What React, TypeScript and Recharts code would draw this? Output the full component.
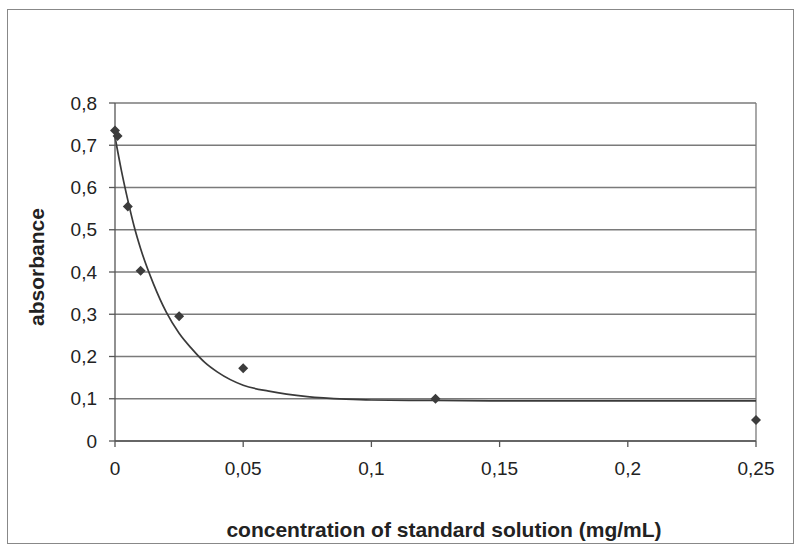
import {
  ComposedChart, Scatter, Line, XAxis, YAxis, CartesianGrid, ReferenceLine,
} from "recharts";

// measured standards
const concentration = [0, 0.001, 0.005, 0.01, 0.025, 0.05, 0.125, 0.25];
const absorbance = [0.735, 0.722, 0.555, 0.403, 0.295, 0.172, 0.1, 0.05];

// trend curve
const fitConcentration = [
  0, 0.0025, 0.005, 0.0075, 0.01, 0.015, 0.02, 0.025, 0.03, 0.035, 0.04,
  0.05, 0.06, 0.075, 0.09, 0.1, 0.125, 0.15, 0.2, 0.25,
];
const fitAbsorbance = [
  0.72, 0.64, 0.57, 0.507, 0.455, 0.372, 0.305, 0.255, 0.218, 0.186, 0.163,
  0.132, 0.118, 0.105, 0.099, 0.097, 0.096, 0.095, 0.095, 0.095,
];

const xTicks = [0, 0.05, 0.1, 0.15, 0.2, 0.25];
const yTicks = [0, 0.1, 0.2, 0.3, 0.4, 0.5, 0.6, 0.7, 0.8];

const points = concentration.map((x, i) => ({ x, y: absorbance[i] }));
const fit = fitConcentration.map((x, i) => ({ x, y: fitAbsorbance[i] }));

const font = "'Liberation Sans', Arial, sans-serif";
const comma = (v: number) => String(v).replace(".", ",");
const tickStyle = { fill: "#222", fontSize: 19, fontFamily: font };

function Diamond(props: any) {
  const { cx, cy } = props;
  if (cx == null || cy == null) return null;
  const r = 5;
  return (
    <polygon
      points={`${cx},${cy - r} ${cx + r},${cy} ${cx},${cy + r} ${cx - r},${cy}`}
      fill="#3c3c3c"
    />
  );
}

export default function App() {
  return (
    <div style={{ position: "absolute", left: 0, top: 0, width: 800, height: 553, background: "#fff" }}>
      <div
        style={{
          position: "absolute", left: 7, top: 9, width: 787, height: 535,
          border: "1px solid #888", boxSizing: "border-box",
        }}
      />
      <ComposedChart
        width={800}
        height={553}
        margin={{ top: 103, right: 44, bottom: 82, left: 55 }}
      >
        <CartesianGrid vertical={false} stroke="#7a7a7a" strokeWidth={1.3} />
        <XAxis
          type="number"
          dataKey="x"
          domain={[0, 0.25]}
          ticks={xTicks}
          tickFormatter={comma}
          height={30}
          tick={tickStyle}
          tickSize={6}
          tickMargin={15}
          stroke="#555"
          strokeWidth={1.3}
        />
        <YAxis
          type="number"
          dataKey="y"
          domain={[0, 0.8]}
          ticks={yTicks}
          tickFormatter={comma}
          width={60}
          tick={tickStyle}
          tickSize={6}
          tickMargin={12}
          stroke="#555"
          strokeWidth={1.3}
        />
        <ReferenceLine x={0.25} stroke="#7a7a7a" strokeWidth={1.3} />
        <Line
          data={fit}
          dataKey="y"
          type="monotone"
          stroke="#3a3a3a"
          strokeWidth={1.7}
          dot={false}
          isAnimationActive={false}
        />
        <Scatter data={points} dataKey="y" shape={<Diamond />} isAnimationActive={false} />
      </ComposedChart>
      <div
        style={{
          position: "absolute", left: 37, top: 267, transform: "translate(-50%, -50%) rotate(-90deg)",
          fontFamily: font, fontWeight: "bold", fontSize: 21, color: "#222", whiteSpace: "nowrap",
        }}
      >
        absorbance
      </div>
      <div
        style={{
          position: "absolute", left: 444, top: 530, transform: "translate(-50%, -50%)",
          fontFamily: font, fontWeight: "bold", fontSize: 21, color: "#222", whiteSpace: "nowrap",
        }}
      >
        concentration of standard solution (mg/mL)
      </div>
    </div>
  );
}
